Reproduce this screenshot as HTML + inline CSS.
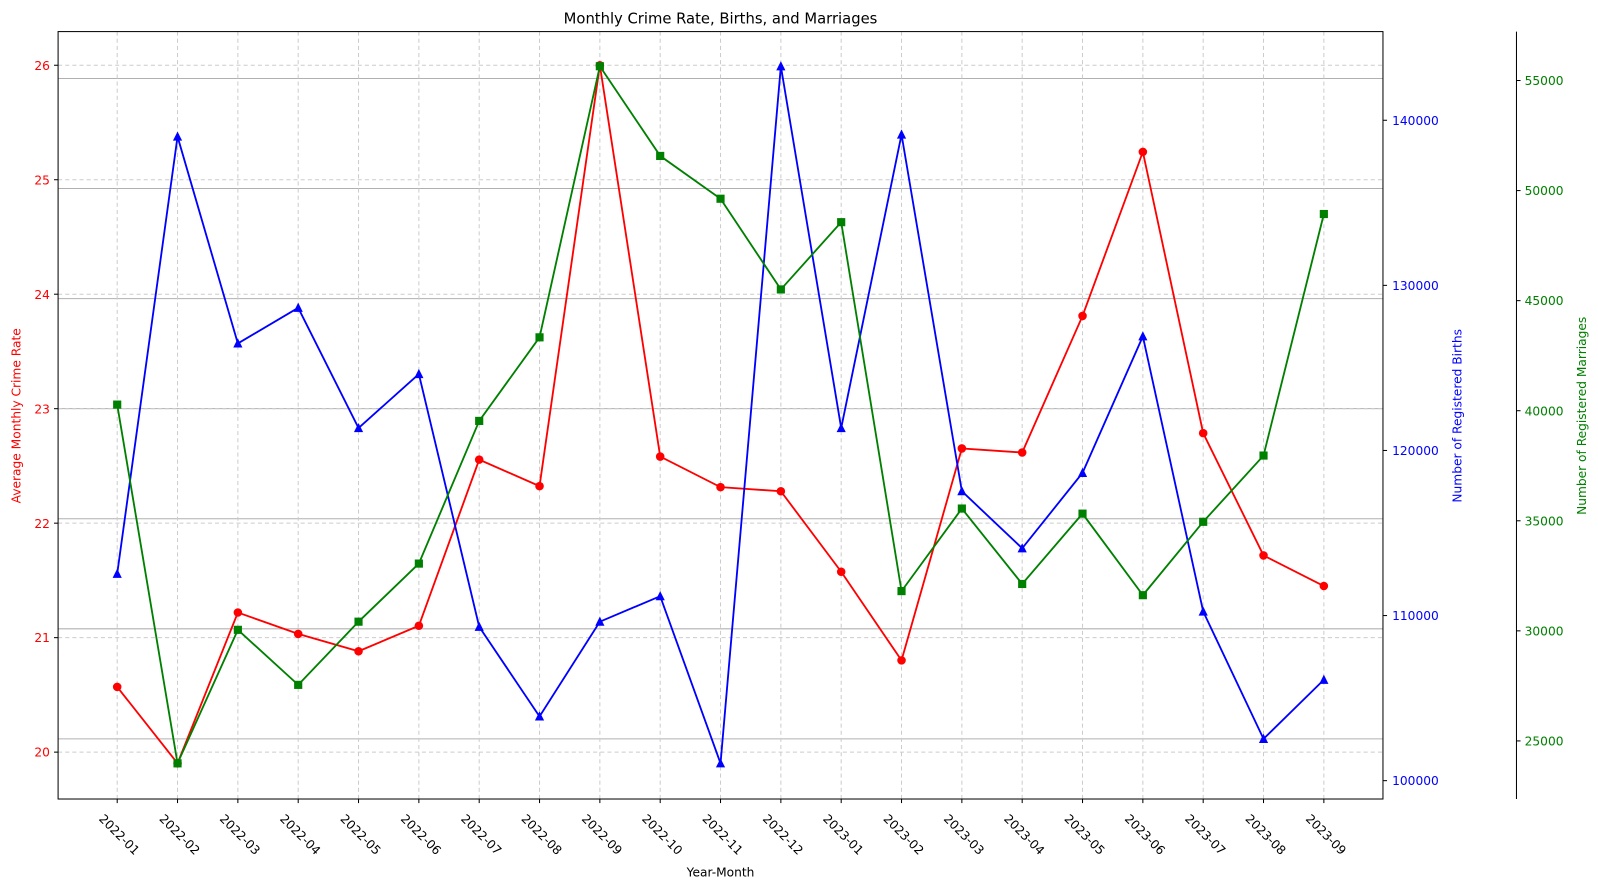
<!DOCTYPE html>
<html><head><meta charset="utf-8"><style>
html,body{margin:0;padding:0;background:#fff;}
svg{display:block;font-family:"DejaVu Sans","Liberation Sans",sans-serif;}
</style></head><body>
<svg width="1598" height="889" viewBox="0 0 1568 872.3" preserveAspectRatio="none" xmlns="http://www.w3.org/2000/svg">
<rect width="1568" height="873" fill="#fff"/>
<g id="g"></g>
<script>
const NS="http://www.w3.org/2000/svg";
const g=document.getElementById('g');
function el(t,a,txt){const e=document.createElementNS(NS,t);for(const k in a)e.setAttribute(k,a[k]);if(txt!==undefined)e.textContent=txt;g.appendChild(e);return e;}
const L=57,R=1357,T=31,B=784;
const xs=i=>115+i*59.2;
const FS=12;
const labels=[];for(let y=2022;y<=2023;y++)for(let m=1;m<=12;m++){if(y==2023&&m>9)break;labels.push(y+'-'+String(m).padStart(2,'0'));}
for(let i=0;i<7;i++){const y=727-i*108;el('line',{x1:L,x2:R,y1:y-2,y2:y-2,stroke:'#b0b0b0','stroke-width':1});}
for(let v=20;v<=26;v++){const y=738-(v-20)*112.33;el('line',{x1:L,x2:R,y1:y,y2:y,stroke:'#cccccc','stroke-width':1,'stroke-dasharray':'4,3'});
el('line',{x1:L-4,x2:L,y1:y,y2:y,stroke:'#000'});el('text',{x:L-8,y:y+4.5,'text-anchor':'end','font-size':FS,fill:'#ff0000'},v);}
labels.forEach((lb,i)=>{const x=xs(i);el('line',{x1:x,x2:x,y1:T,y2:B,stroke:'#cccccc','stroke-width':1,'stroke-dasharray':'4,3'});
el('line',{x1:x,x2:x,y1:B,y2:B+4,stroke:'#000'});
el('text',{x:x+2,y:823,'text-anchor':'middle','font-size':FS,fill:'#000',transform:`rotate(45 ${x+2} 819)`},lb);});
for(let i=0;i<=4;i++){const y=766-i*162;el('line',{x1:R,x2:R+4,y1:y,y2:y,stroke:'#000'});el('text',{x:R+9,y:y+4.5,'font-size':FS,fill:'#0000ff'},100000+i*10000);}
const S3=1488;
for(let i=0;i<7;i++){const y=727-i*108;el('line',{x1:S3,x2:S3+4,y1:y,y2:y,stroke:'#000'});el('text',{x:S3+8,y:y+4.5,'font-size':FS,fill:'#008000'},25000+i*5000);}
el('line',{x1:S3,x2:S3,y1:T,y2:B,stroke:'#000','stroke-width':1});
const red=[674,749,601,622,639,614,451,477,64,448,478,482,561,648,440,444,310,149,425,545,575];
const blue=[563,134,337,302,420,367,615,703,610,585,749,65,420,132,482,538,464,330,600,725,667];
const green=[397,749,618,672,610,553,413,331,65,153,195,284,218,580,499,573,504,584,512,447,210];
function series(d,c,mk){el('polyline',{points:d.map((y,i)=>xs(i)+','+y).join(' '),fill:'none',stroke:c,'stroke-width':1.8});
d.forEach((y,i)=>{const x=xs(i);if(mk=='o')el('circle',{cx:x,cy:y,r:4.2,fill:c});else if(mk=='s')el('rect',{x:x-4,y:y-4,width:8,height:8,fill:c});else el('polygon',{points:`${x},${y-5} ${x-4.5},${y+4} ${x+4.5},${y+4}`,fill:c});});}
series(red,'#ff0000','o');series(blue,'#0000ff','^');series(green,'#008000','s');
el('rect',{x:L,y:T,width:R-L,height:B-T,fill:'none',stroke:'#000','stroke-width':1});
el('text',{x:707,y:23,'text-anchor':'middle','font-size':14.5,fill:'#000'},'Monthly Crime Rate, Births, and Marriages');
el('text',{x:707,y:860,'text-anchor':'middle','font-size':FS,fill:'#000'},'Year-Month');
el('text',{x:20,y:408,'text-anchor':'middle','font-size':FS,fill:'#ff0000',transform:'rotate(-90 20 408)'},'Average Monthly Crime Rate');
el('text',{x:1434,y:408,'text-anchor':'middle','font-size':FS,fill:'#0000ff',transform:'rotate(-90 1434 408)'},'Number of Registered Births');
el('text',{x:1556,y:408,'text-anchor':'middle','font-size':FS,fill:'#008000',transform:'rotate(-90 1556 408)'},'Number of Registered Marriages');
</script>
</svg>
</body></html>
